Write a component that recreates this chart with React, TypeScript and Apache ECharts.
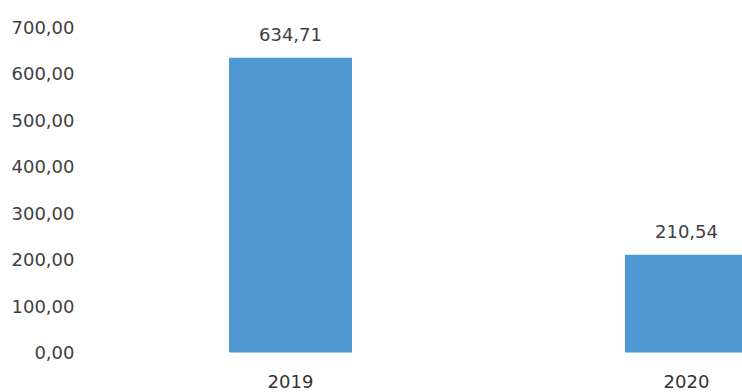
import React, { useEffect, useRef } from "react";
import * as echarts from "echarts";

const categories = ["2019", "2020"];
const values = [634.71, 210.54];
const yTicks = [0, 100, 200, 300, 400, 500, 600, 700];

const fmt = (v: number) => v.toFixed(2).replace(".", ",");

export default function App() {
  const ref = useRef<HTMLDivElement>(null);
  useEffect(() => {
    if (!ref.current) return;
    const chart = echarts.init(ref.current, null, { renderer: "svg" });
    const font = "'DejaVu Sans', sans-serif";
    chart.setOption({
      animation: false,
      backgroundColor: "#ffffff",
      grid: { left: 92.5, top: 27.5, width: 792, height: 325, outerBoundsMode: "none" },
      xAxis: {
        type: "category",
        data: categories,
        axisLine: { show: false },
        axisTick: { show: false },
        axisLabel: { color: "#333333", fontSize: 18, fontFamily: font, margin: 20 },
      },
      yAxis: {
        type: "value",
        min: yTicks[0],
        max: yTicks[yTicks.length - 1],
        interval: 100,
        splitLine: { show: false },
        axisLine: { show: false },
        axisTick: { show: false },
        axisLabel: {
          color: "#404040",
          fontSize: 18,
          fontFamily: font,
          margin: 18,
          formatter: (v: number) => fmt(v),
        },
      },
      series: [
        {
          type: "bar",
          data: values,
          barWidth: 123,
          itemStyle: { color: "#4e98d3" },
          label: {
            show: true,
            position: "top",
            distance: 14,
            color: "#404040",
            fontSize: 18,
            fontFamily: font,
            formatter: (p: any) => fmt(p.value),
          },
        },
      ],
    });
    return () => chart.dispose();
  }, []);
  return (
    <div style={{ position: "absolute", left: 0, top: 0, width: 742, height: 392, overflow: "hidden" }}>
      <div ref={ref} style={{ width: 900, height: 392 }} />
    </div>
  );
}
